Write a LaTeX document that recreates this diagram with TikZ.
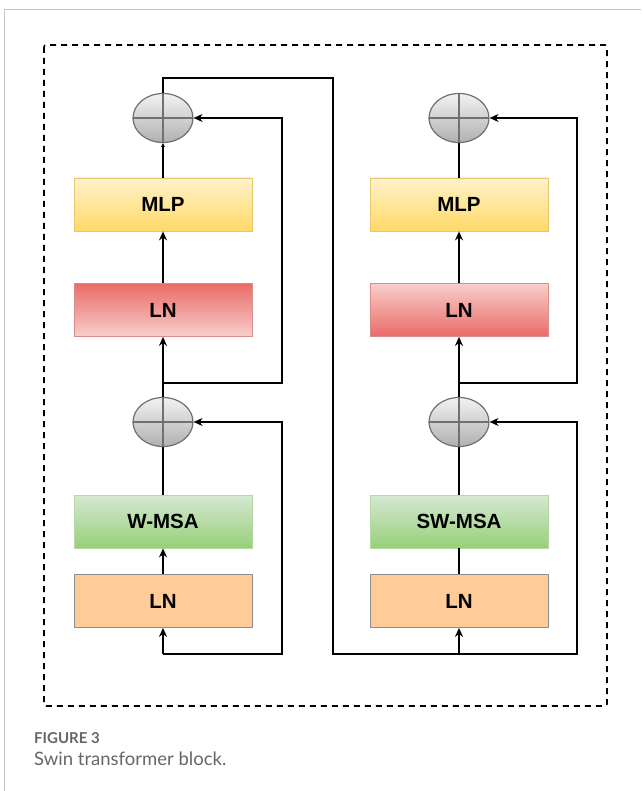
\documentclass[tikz,border=0pt]{standalone}
\usepackage{fontspec}
\setmainfont{Liberation Sans}
\newfontfamily\capfont{Lato}
\usetikzlibrary{arrows.meta,shapes.geometric}
\definecolor{ylT}{HTML}{FFF2CC}\definecolor{ylB}{HTML}{FFD966}\definecolor{ylD}{HTML}{E6C870}
\definecolor{rdT}{HTML}{EA6B66}\definecolor{rdB}{HTML}{F8CECC}\definecolor{rdD}{HTML}{D98C88}
\definecolor{grT}{HTML}{D5E8D4}\definecolor{grB}{HTML}{97D077}\definecolor{grD}{HTML}{B5D9A8}
\definecolor{orF}{HTML}{FFCC99}\definecolor{orD}{HTML}{8C8C8C}
\definecolor{elT}{HTML}{F2F2F2}\definecolor{elB}{HTML}{B0B0B0}\definecolor{elD}{HTML}{707070}
\definecolor{capgray}{HTML}{666666}
\tikzset{
  blk/.style={rectangle,minimum width=178pt,minimum height=53pt,inner sep=0pt,
    font=\fontsize{20.5}{22}\selectfont\bfseries,line width=0.8pt},
  ylw/.style={blk,draw=ylD,top color=ylT,bottom color=ylB},
  redd/.style={blk,draw=rdD,top color=rdT,bottom color=rdB},
  redu/.style={blk,draw=rdD,top color=rdB,bottom color=rdT},
  grn/.style={blk,draw=grD,top color=grT,bottom color=grB},
  org/.style={blk,draw=orD,fill=orF},
  sumnode/.style={ellipse,minimum width=60pt,minimum height=49pt,inner sep=0pt,
    draw=elD,line width=1.2pt,top color=elT,bottom color=elB,
    path picture={\draw[elD,line width=1.2pt]
      (path picture bounding box.north)--(path picture bounding box.south)
      (path picture bounding box.west)--(path picture bounding box.east);}},
  wire/.style={line width=1.6pt,black},
  arr/.style={wire,-{Stealth[length=9pt,width=8pt,inset=3pt]}},
  sarr/.style={wire,-{Stealth[length=4pt,width=4pt,inset=1pt]}},
}
\begin{document}
\begin{tikzpicture}[x=1pt,y=-1pt]
\useasboundingbox (0,0) rectangle (641,791);
\fill[white] (0,0) rectangle (641,791);
\draw[gray!45,line width=0.8pt] (641,9) -- (4,9) -- (4,791);
\draw[line width=1.6pt,dash pattern=on 6pt off 5pt,rounded corners=2pt] (44,45) rectangle (607,706);
% left column
\node[sumnode] (ea) at (163,118) {};
\node[ylw] (ma) at (163,204.5) {MLP};
\node[redd] (la) at (163,310) {LN};
\node[sumnode] (eb) at (163,422) {};
\node[grn] (wa) at (163,521.5) {W-MSA};
\node[org] (lc) at (163,601) {LN};
% right column
\node[sumnode] (ec) at (459,118) {};
\node[ylw] (mb) at (459,204.5) {MLP};
\node[redu] (lb) at (459,310) {LN};
\node[sumnode] (ed) at (459,422) {};
\node[grn] (wb) at (459,521.5) {SW-MSA};
\node[org] (ld) at (459,601) {LN};
% coordinates
\coordinate (inA) at (163,654);
\coordinate (brA) at (163,383);
\coordinate (inB) at (459,654);
\coordinate (brB) at (459,383);
% left connectors
\draw[arr] (inA) -- (lc.south);
\draw[arr] (lc.north) -- (wa.south);
\draw[wire] (wa.north) -- (eb.south);
\draw[arr] (eb.north) -- (la.south);
\draw[arr] (la.north) -- (ma.south);
\draw[sarr] (ma.north) -- (ea.south);
\draw[arr] (inA) -- (282,654) -- (282,422) -- (eb.east);
\draw[arr] (brA) -- (282,383) -- (282,118) -- (ea.east);
\draw[wire] (ea.north) -- (163,78) -- (333,78) -- (333,654) -- (inB);
% right connectors
\draw[arr] (inB) -- (ld.south);
\draw[wire] (ld.north) -- (wb.south);
\draw[wire] (wb.north) -- (ed.south);
\draw[arr] (ed.north) -- (lb.south);
\draw[arr] (lb.north) -- (mb.south);
\draw[wire] (mb.north) -- (ec.south);
\draw[arr] (inB) -- (577,654) -- (577,422) -- (ed.east);
\draw[arr] (brB) -- (577,383) -- (577,118) -- (ec.east);
% caption
\node[anchor=base west,inner sep=0pt,font=\capfont\fontsize{15}{17}\selectfont\bfseries,text=capgray] (cap1) at (34,743) {FIGURE 3};
\node[anchor=base west,inner sep=0pt,font=\capfont\fontsize{18.5}{21}\selectfont,text=capgray] (cap2) at (34,765) {Swin transformer block.};
\end{tikzpicture}
\end{document}
